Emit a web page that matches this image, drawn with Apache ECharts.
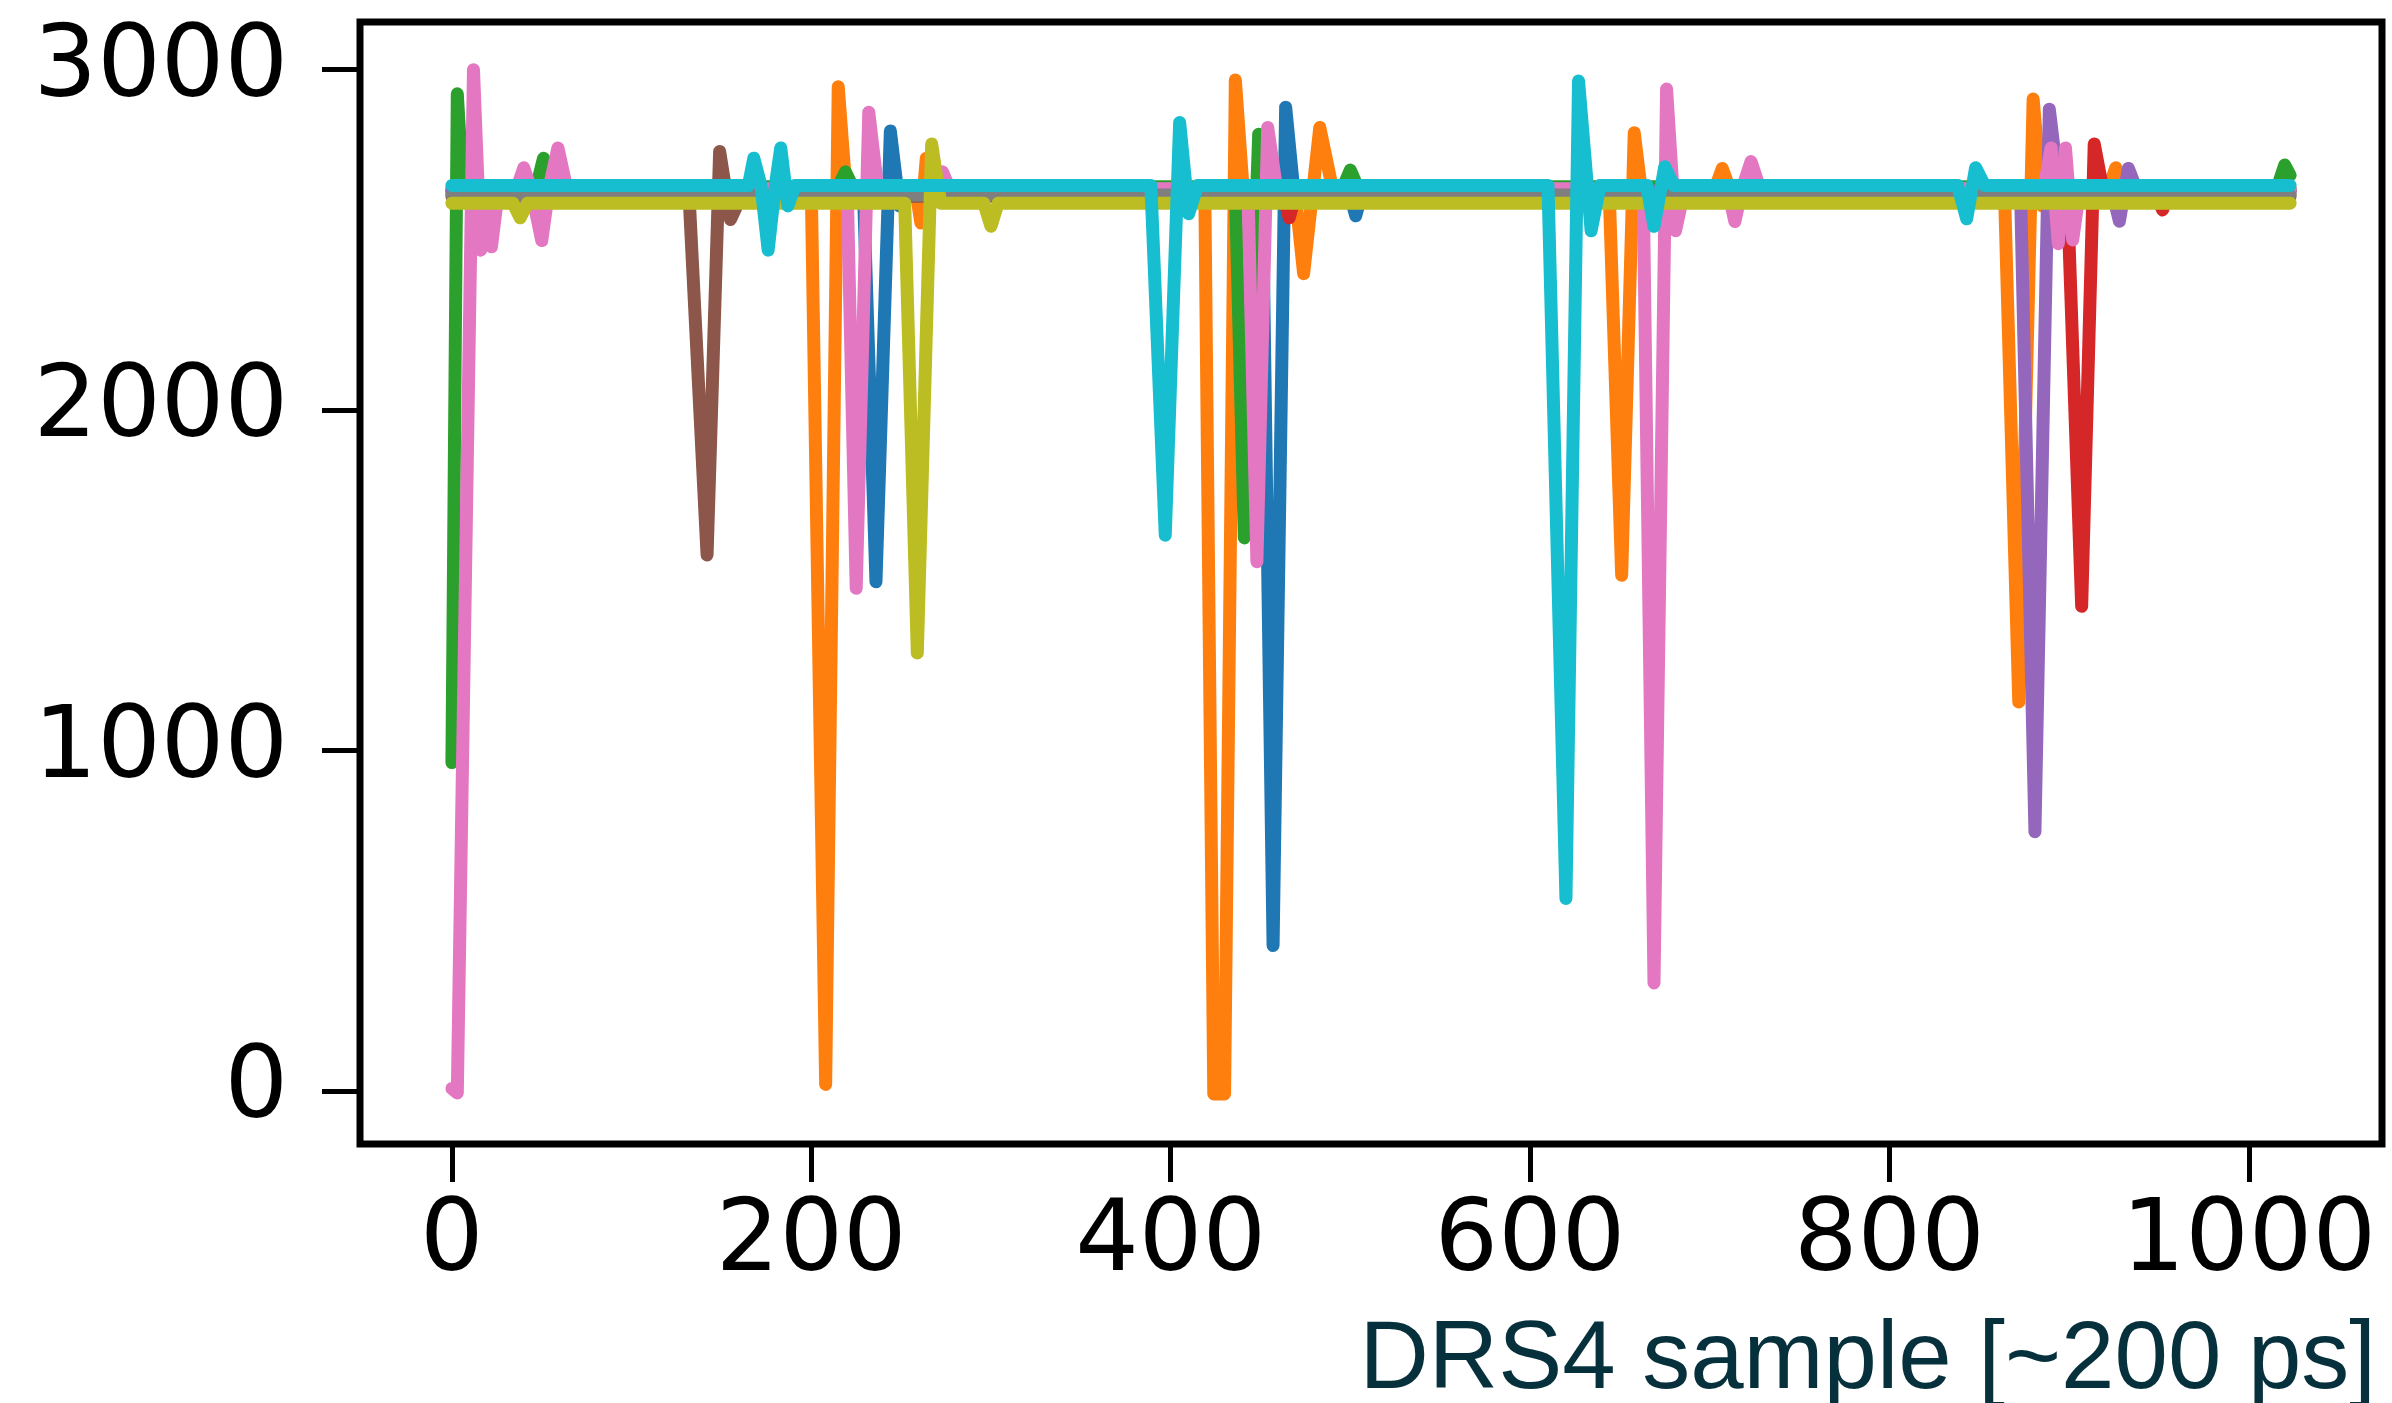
<!DOCTYPE html>
<html>
<head>
<meta charset="utf-8">
<script src="https://cdn.jsdelivr.net/npm/echarts@6/dist/echarts.min.js"></script>
<style>
  html, body { margin: 0; padding: 0; background: #fff; }
  #chart { width: 2392px; height: 1403px; }
</style>
</head>
<body>
<div id="chart"></div>
<script>
// DRS4 waveforms, [sample, ADC] (pulse turning points only)
const blue = [[0, 2648], [229, 2648], [236, 1496], [244, 2820], [249, 2600], [254, 2648],
  [451, 2648], [457, 428], [464, 2890], [469, 2620], [474, 2648],
  [499, 2648], [503, 2571], [507, 2648], [1023, 2648]]
const orange = [[0, 2652], [200, 2652], [208, 20], [215, 2950], [220, 2600], [225, 2652],
  [258, 2652], [261, 2550], [264, 2740], [268, 2652],
  [419, 2652], [424, -8], [430, -8], [436, 2970], [441, 2600], [446, 2652],
  [469, 2652], [474, 2401], [483, 2830], [490, 2652],
  [644, 2652], [651, 1515], [658, 2815], [663, 2600], [668, 2652],
  [703, 2652], [707, 2710], [711, 2652],
  [864, 2652], [872, 1143], [880, 2914], [885, 2600], [890, 2652],
  [922, 2652], [926, 2712], [930, 2652], [1023, 2652]]
const green = [[0, 965], [3, 2929], [6, 2656], [47, 2656], [51, 2740], [55, 2656],
  [215, 2656], [219, 2700], [223, 2656],
  [436, 2656], [441, 1625], [449, 2810], [455, 2656],
  [496, 2656], [500, 2705], [504, 2656], [1016, 2656], [1020, 2720], [1023, 2690]]
const red = [[0, 2642], [462, 2642], [466, 2565], [470, 2642],
  [899, 2642], [907, 1424], [914, 2782], [919, 2642],
  [948, 2642], [952, 2588], [956, 2642], [1023, 2642]]
const purple = [[0, 2642], [873, 2642], [881, 762], [889, 2884], [895, 2620], [900, 2642],
  [924, 2642], [928, 2555], [933, 2710], [938, 2642], [1023, 2642]]
const brown = [[0, 2628], [132, 2628], [142, 1575], [149, 2760], [155, 2560], [161, 2628], [1023, 2628]]
const pink = [[0, 8], [3, -5], [12, 3000], [16, 2470], [19, 2660], [22, 2480], [26, 2650],
  [36, 2650], [40, 2712], [44, 2650], [50, 2498], [54, 2650], [59, 2770], [64, 2650],
  [220, 2650], [225, 1477], [232, 2875], [237, 2650], [270, 2650], [273, 2700], [277, 2650],
  [443, 2650], [448, 1555], [454, 2830], [459, 2650],
  [663, 2650], [669, 318], [676, 2943], [681, 2527], [686, 2650],
  [710, 2650], [714, 2554], [718, 2650], [723, 2730], [728, 2650],
  [886, 2650], [890, 2770], [894, 2489], [898, 2770], [902, 2500], [906, 2650], [1023, 2650]]
const gray = [[0, 2632], [1023, 2632]]
const olive = [[0, 2608], [34, 2608], [38, 2565], [42, 2608],
  [252, 2608], [259, 1287], [267, 2782], [272, 2608],
  [296, 2608], [300, 2540], [304, 2608], [1023, 2608]]
const cyan = [[0, 2660], [165, 2660], [168, 2740], [172, 2660], [176, 2470], [180, 2660],
  [183, 2770], [187, 2600], [191, 2660],
  [389, 2660], [397, 1633], [405, 2845], [410, 2577], [415, 2660],
  [610, 2660], [620, 566], [627, 2967], [634, 2527], [639, 2660],
  [665, 2660], [669, 2540], [675, 2715], [680, 2660],
  [838, 2660], [843, 2562], [848, 2712], [853, 2660], [1023, 2660]]

const xTicks = [0, 200, 400, 600, 800, 1000]
const yTicks = [0, 1000, 2000, 3000]
const xLabel = "DRS4 sample [~200 ps]"

// matplotlib tab10, drawn in this order
const waves = [blue, orange, green, red, purple, brown, pink, gray, olive, cyan]
const colors = ["#1f77b4", "#ff7f0e", "#2ca02c", "#d62728", "#9467bd",
  "#8c564b", "#e377c2", "#7f7f7f", "#bcbd22", "#17becf"]

const chart = echarts.init(document.getElementById("chart"), null, { renderer: "canvas" })

const tickFont = {
  fontSize: 100,
  fontFamily: "DejaVu Sans",
  color: "#000",
  formatter: (v) => String(v),
}

const option = {
  animation: false,
  backgroundColor: "#fff",
  grid: {
    left: 360,
    top: 22,
    width: 2022,
    height: 1122,
    containLabel: false,
    outerBoundsMode: "none",
    show: true,
    borderColor: "#000",
    borderWidth: 7,
    backgroundColor: "transparent",
  },
  xAxis: {
    type: "value",
    min: -51.15,
    max: 1074.15,
    axisLine: { show: false, onZero: false },
    splitLine: { show: false },
    axisTick: {
      show: true,
      length: 38,
      customValues: xTicks,
      lineStyle: { color: "#000", width: 5 },
    },
    axisLabel: {
      ...tickFont,
      margin: 50,
      customValues: xTicks,
    },
  },
  yAxis: {
    type: "value",
    min: -155,
    max: 3140,
    axisLine: { show: false, onZero: false },
    splitLine: { show: false },
    axisTick: {
      show: true,
      length: 38,
      customValues: yTicks,
      lineStyle: { color: "#000", width: 5 },
    },
    axisLabel: {
      ...tickFont,
      margin: 72,
      customValues: yTicks,
    },
  },
  graphic: [
    {
      type: "text",
      x: 2376,
      y: 1362,
      style: {
        text: xLabel,
        font: '96px "Liberation Sans"',
        fill: "#07303d",
        align: "right",
        verticalAlign: "middle",
      },
    },
  ],
  series: waves.map((w, i) => ({
    type: "line",
    data: w,
    showSymbol: false,
    symbol: "none",
    clip: true,
    lineStyle: { color: colors[i], width: 13, cap: "round", join: "round" },
    emphasis: { disabled: true },
  })),
}

chart.setOption(option)
</script>
</body>
</html>
